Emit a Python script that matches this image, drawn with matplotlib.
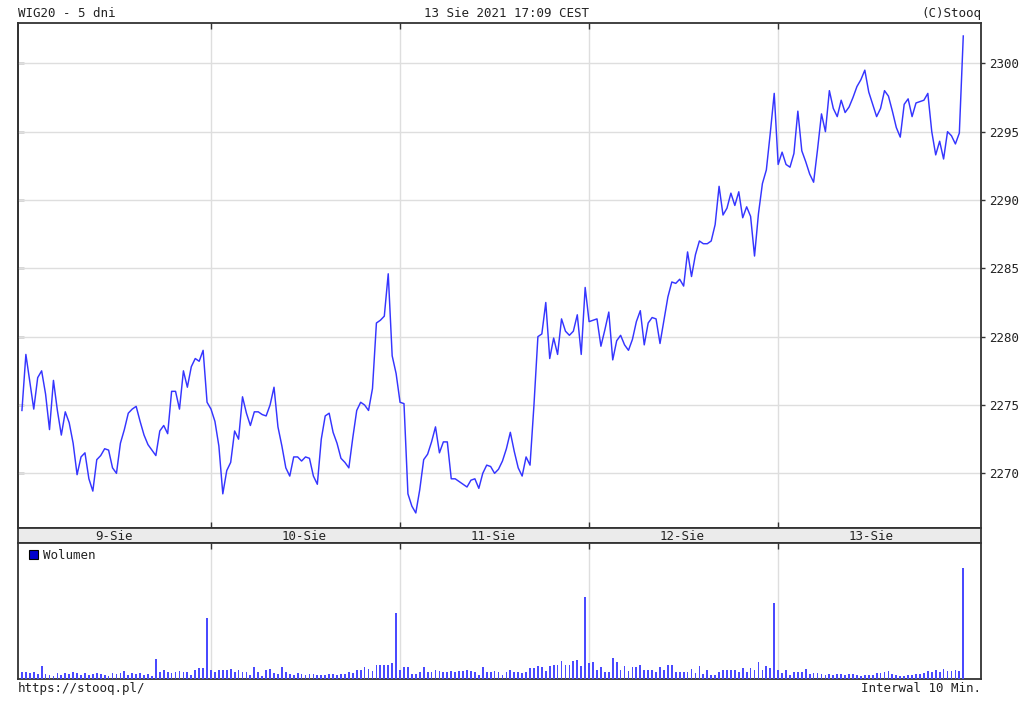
import matplotlib
matplotlib.use('Agg')
import matplotlib.pyplot as plt
from matplotlib.patches import Patch
import numpy as np

# WIG20, 5 trading days, 10-minute bars (48 per day, last one = closing auction)
day_labels = ['9-Sie', '10-Sie', '11-Sie', '12-Sie', '13-Sie']

price_9 = [2274.6, 2278.7, 2276.7, 2274.7, 2277.0, 2277.5, 2275.8, 2273.2, 2276.8, 2274.6,
           2272.8, 2274.5, 2273.7, 2272.2, 2269.9, 2271.2, 2271.5, 2269.6, 2268.7, 2271.0,
           2271.3, 2271.8, 2271.7, 2270.4, 2270.0, 2272.2, 2273.2, 2274.4, 2274.7, 2274.9,
           2273.8, 2272.8, 2272.1, 2271.7, 2271.3, 2273.1, 2273.5, 2272.9, 2276.0, 2276.0,
           2274.7, 2277.5, 2276.3, 2277.8, 2278.4, 2278.2, 2279.0, 2275.2]
price_10 = [2274.7, 2273.8, 2272.0, 2268.5, 2270.2, 2270.8, 2273.1, 2272.5, 2275.6, 2274.4,
            2273.5, 2274.5, 2274.5, 2274.3, 2274.2, 2275.0, 2276.3, 2273.4, 2272.0, 2270.4,
            2269.8, 2271.2, 2271.2, 2270.9, 2271.2, 2271.1, 2269.8, 2269.2, 2272.5, 2274.2,
            2274.4, 2273.0, 2272.2, 2271.1, 2270.8, 2270.4, 2272.6, 2274.6, 2275.2, 2275.0,
            2274.6, 2276.2, 2281.0, 2281.2, 2281.5, 2284.6, 2278.6, 2277.3]
price_11 = [2275.2, 2275.1, 2268.5, 2267.6, 2267.1, 2268.8, 2271.0, 2271.4, 2272.3, 2273.4,
            2271.5, 2272.3, 2272.3, 2269.6, 2269.6, 2269.4, 2269.2, 2269.0, 2269.5, 2269.6,
            2268.9, 2270.0, 2270.6, 2270.5, 2270.0, 2270.3, 2270.9, 2271.8, 2273.0, 2271.6,
            2270.4, 2269.8, 2271.2, 2270.6, 2275.0, 2280.0, 2280.2, 2282.5, 2278.4, 2279.9,
            2278.7, 2281.3, 2280.4, 2280.1, 2280.4, 2281.6, 2278.7, 2283.6]
price_12 = [2281.1, 2281.2, 2281.3, 2279.3, 2280.5, 2281.8, 2278.3, 2279.7, 2280.1, 2279.4,
            2279.0, 2279.8, 2281.1, 2281.9, 2279.4, 2281.0, 2281.4, 2281.3, 2279.5, 2281.2,
            2282.9, 2284.0, 2283.9, 2284.2, 2283.7, 2286.2, 2284.4, 2286.0, 2287.0, 2286.8,
            2286.8, 2287.0, 2288.2, 2291.0, 2288.9, 2289.4, 2290.5, 2289.6, 2290.6, 2288.7,
            2289.5, 2288.8, 2285.9, 2289.0, 2291.2, 2292.2, 2294.9, 2297.8]
price_13 = [2292.6, 2293.5, 2292.6, 2292.4, 2293.4, 2296.5, 2293.6, 2292.8, 2291.9, 2291.3,
            2293.7, 2296.3, 2295.0, 2298.0, 2296.7, 2296.1, 2297.3, 2296.4, 2296.8, 2297.5,
            2298.3, 2298.8, 2299.5, 2297.9, 2297.0, 2296.1, 2296.7, 2298.0, 2297.6, 2296.5,
            2295.3, 2294.6, 2297.0, 2297.4, 2296.1, 2297.1, 2297.2, 2297.3, 2297.8, 2295.0,
            2293.3, 2294.3, 2293.0, 2295.0, 2294.7, 2294.1, 2294.9, 2302.0]

# volume, relative units (no scale shown on the chart)
vol_9 = [7, 7, 6, 7, 5, 13, 5, 4, 3, 6, 4, 6, 5, 7, 6, 4, 6, 4, 5, 6, 5, 4, 3, 6, 5,
         6, 8, 4, 6, 5, 6, 4, 5, 3, 20, 7, 9, 7, 6, 7, 8, 7, 7, 4, 9, 11, 11, 61]
vol_10 = [9, 7, 9, 9, 9, 10, 7, 9, 7, 7, 4, 12, 7, 3, 9, 10, 6, 5, 12, 7, 5, 4, 6, 5, 4,
          5, 5, 4, 4, 4, 5, 5, 4, 5, 5, 7, 6, 9, 9, 12, 10, 8, 14, 14, 14, 14, 16, 66]
vol_11 = [9, 12, 12, 5, 5, 7, 12, 7, 7, 9, 8, 7, 7, 8, 7, 8, 8, 9, 8, 7, 4, 12, 7, 7, 8,
          7, 4, 7, 9, 7, 7, 6, 7, 11, 11, 13, 12, 8, 13, 14, 14, 18, 14, 14, 18, 19, 13, 82]
vol_12 = [16, 17, 9, 12, 7, 7, 21, 17, 9, 13, 8, 12, 12, 14, 9, 9, 9, 7, 12, 9, 14, 14, 7, 7, 7,
          7, 10, 6, 13, 5, 9, 4, 4, 7, 9, 9, 9, 9, 7, 11, 7, 11, 9, 17, 9, 13, 11, 76]
vol_13 = [9, 6, 9, 4, 7, 7, 7, 10, 5, 6, 6, 5, 4, 5, 4, 5, 5, 4, 5, 5, 4, 3, 4, 4, 4,
          6, 6, 7, 8, 5, 4, 3, 3, 4, 4, 5, 5, 6, 8, 7, 9, 7, 10, 8, 8, 9, 8, 111]

price_ticks = [2270, 2275, 2280, 2285, 2290, 2295, 2300]

price = np.concatenate([price_9, price_10, price_11, price_12, price_13])
volume = np.concatenate([vol_9, vol_10, vol_11, vol_12, vol_13])
x = np.arange(len(price))
per_day = len(price_9)
day_starts = [per_day * d for d in range(1, len(day_labels))]

plt.rcParams['font.family'] = ['DejaVu Sans Mono']
TXT = '#222222'
SPINE = '#333333'
GRID = '#dedede'
FS = 9

W, H = 1024, 711
fig = plt.figure(figsize=(W / 100, H / 100), dpi=100)
left, width = 18 / W, 963 / W
ax = fig.add_axes([left, 1 - 528 / H, width, (528 - 23) / H])
band = fig.add_axes([left, 1 - 543 / H, width, (543 - 528) / H])
axv = fig.add_axes([left, 1 - 679 / H, width, (679 - 543) / H])

xlim = (-1, 243.5)

# price panel
ax.plot(x, price, color='#3535ff', lw=1.05, zorder=3)
ax.set_xlim(xlim)
ax.set_ylim(2266.0, 2302.95)
ax.set_yticks(price_ticks)
ax.yaxis.tick_right()
ax.tick_params(axis='y', direction='out', length=3, width=1, pad=3,
               labelsize=FS, labelcolor=TXT, color=SPINE)
ax.set_xticks(day_starts)
ax.tick_params(axis='x', direction='in', top=True, bottom=True, length=4,
               width=1, color=SPINE, labelbottom=False)
ax.grid(True, color=GRID, lw=1)
ax.set_axisbelow(True)
sec = ax.secondary_yaxis('left')
sec.set_yticks(price_ticks)
sec.tick_params(direction='in', length=4, width=1, color=SPINE, labelleft=False)
sec.spines['left'].set_color(SPINE)
sec.spines['left'].set_linewidth(1.3)

# date band
band.set_facecolor('#ebebeb')
band.set_xlim(xlim)
band.set_ylim(0, 1)
band.set_xticks([])
band.set_yticks([])
for d, lab in enumerate(day_labels):
    band.text(per_day * d + 23.5, 0.45, lab, ha='center', va='center',
              fontsize=FS, color=TXT)

# volume panel
axv.bar(x, volume, width=0.45, color='#4a4aff', linewidth=0, antialiased=False, zorder=3)
axv.set_xlim(xlim)
axv.set_ylim(0, 136)
axv.set_yticks([])
axv.set_xticks(day_starts)
axv.tick_params(axis='x', direction='in', top=True, bottom=False, length=4,
                width=1, color=SPINE, labelbottom=False)
axv.grid(True, axis='x', color=GRID, lw=1)
axv.set_axisbelow(True)
axv.legend(handles=[Patch(facecolor='#0000cc', edgecolor='#000000', lw=0.8, label='Wolumen')],
           loc='upper left', bbox_to_anchor=(0.002, 1.02), frameon=False,
           handlelength=0.75, handleheight=0.75, handletextpad=0.4, borderaxespad=0.3,
           prop={'size': FS}, labelcolor=TXT)

for a in (ax, band, axv):
    for sp in a.spines.values():
        sp.set_color(SPINE)
        sp.set_linewidth(1.3)

# header / footer
fig.text(18 / W, 1 - 17 / H, 'WIG20 - 5 dni', ha='left', va='baseline', fontsize=FS, color=TXT)
fig.text(506 / W, 1 - 17 / H, '13 Sie 2021 17:09 CEST', ha='center', va='baseline',
         fontsize=FS, color=TXT)
fig.text(981 / W, 1 - 17 / H, '(C)Stooq', ha='right', va='baseline', fontsize=FS, color=TXT)
fig.text(18 / W, 1 - 692 / H, 'https://stooq.pl/', ha='left', va='baseline', fontsize=FS, color=TXT)
fig.text(981 / W, 1 - 692 / H, 'Interwal 10 Min.', ha='right', va='baseline', fontsize=FS, color=TXT)

fig.savefig('out.png', dpi=100, facecolor='white')
